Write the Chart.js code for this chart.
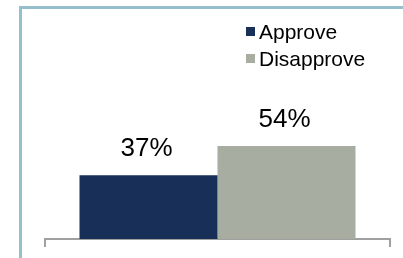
<!DOCTYPE html>
<html>
<head>
<style>
  body { margin: 0; overflow: hidden; background: #fff; }
  #wrap { position: relative; width: 403px; height: 258px; overflow: hidden; }
  #frame { position: absolute; left: 19px; top: 6px; width: 500px; height: 400px; border: 3px solid #95BFCA; }
  #myChart { position: absolute; left: 0; top: 0; }
</style>
</head>
<body>
<script src="https://cdn.jsdelivr.net/npm/chart.js"></script>
<div id="wrap">
    <div id="frame"></div>
    <canvas id="myChart" width="403" height="258"></canvas>
</div>

<script>
const labels = [''];
const seriesNames = ['Approve', 'Disapprove'];
const approveValues = [37];
const disapproveValues = [54];
const seriesColors = ['#182F57', '#A8ADA2'];

const data = {
  labels: labels,
  datasets: [{
    label: seriesNames[0],
    data: approveValues,
    backgroundColor: seriesColors[0],
    borderWidth: 0
  },{
    label: seriesNames[1],
    data: disapproveValues,
    backgroundColor: seriesColors[1],
    borderWidth: 0
  }]
};

// value labels above each bar
const valueLabels = {
  id: 'valueLabels',
  afterDatasetsDraw(chart) {
    const ctx = chart.ctx;
    ctx.save();
    ctx.font = '26px "Liberation Sans", Arial, sans-serif';
    ctx.fillStyle = '#000';
    ctx.textAlign = 'center';
    ctx.textBaseline = 'alphabetic';
    chart.data.datasets.forEach((ds, i) => {
      chart.getDatasetMeta(i).data.forEach((bar, j) => {
        ctx.fillText(ds.data[j] + '%', bar.x - 2, bar.y - 19);
      });
    });
    ctx.restore();
  }
};

// legend stacked in the top right, left aligned
const boxLegend = {
  id: 'boxLegend',
  afterDraw(chart) {
    const ctx = chart.ctx;
    ctx.save();
    ctx.font = '21px "Liberation Sans", Arial, sans-serif';
    ctx.textBaseline = 'alphabetic';
    ctx.textAlign = 'left';
    chart.data.datasets.forEach((ds, i) => {
      const y = 27 + i * 27;
      ctx.fillStyle = ds.backgroundColor;
      ctx.fillRect(246, y, 9, 9);
      ctx.fillStyle = '#000';
      ctx.fillText(ds.label, 259, y + 12);
    });
    ctx.restore();
  }
};

const config = {
  type: 'bar',
  data: data,
  plugins: [valueLabels, boxLegend],
  options: {
    responsive: false,
    animation: false,
    layout: {
      padding: { left: 45, right: 13, top: 67, bottom: 11 }
    },
    datasets: {
      bar: {
        categoryPercentage: 0.8,
        barPercentage: 1.0
      }
    },
    plugins: {
      legend: { display: false },
      tooltip: { enabled: false }
    },
    scales: {
      x: {
        grid: {
          offset: true,
          drawOnChartArea: false,
          drawTicks: true,
          tickLength: 8,
          color: '#A0A0A0',
          lineWidth: 2
        },
        border: { display: true, color: '#A0A0A0', width: 2 },
        ticks: { display: false }
      },
      y: {
        display: false,
        min: 0,
        max: 100
      }
    }
  }
};

const myChart = new Chart(
  document.getElementById('myChart'),
  config
);
</script>
</body>
</html>
